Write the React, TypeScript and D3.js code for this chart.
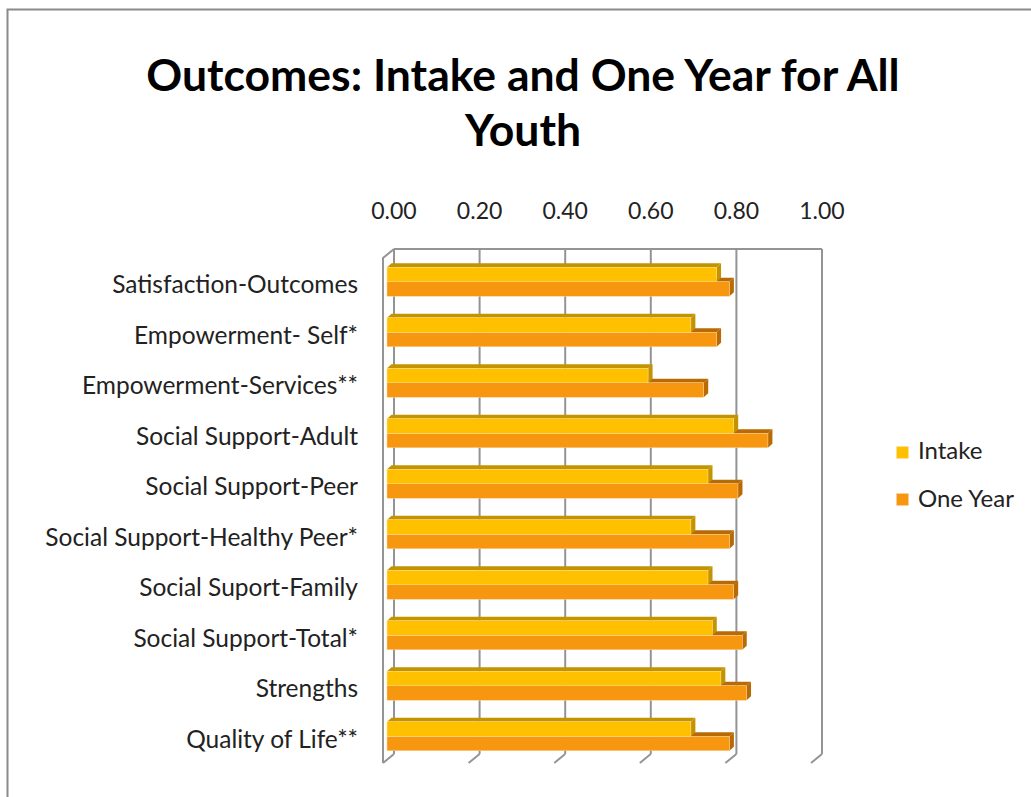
import React from "react";
import * as d3 from "d3";

const categories = [
  "Satisfaction-Outcomes",
  "Empowerment- Self*",
  "Empowerment-Services**",
  "Social Support-Adult",
  "Social Support-Peer",
  "Social Support-Healthy Peer*",
  "Social Suport-Family",
  "Social Support-Total*",
  "Strengths",
  "Quality of Life**",
];
const intake = [0.77, 0.71, 0.61, 0.81, 0.75, 0.71, 0.75, 0.76, 0.78, 0.71];
const oneYear = [0.8, 0.77, 0.74, 0.89, 0.82, 0.8, 0.81, 0.83, 0.84, 0.8];
const tickValues = [0, 0.2, 0.4, 0.6, 0.8, 1.0];
const seriesNames = ["Intake", "One Year"];

const FONT = "Lato, 'Open Sans', sans-serif";
const colors = [
  { front: "#FFC000", dark: "#C39300", edge: "#FFE2A0" },
  { front: "#F7960F", dark: "#B86B05", edge: "#FBD3A0" },
];

export default function App() {
  const W = 1031;
  const H = 797;
  // back wall
  const xBack = d3.scaleLinear().domain([0, 1]).range([394, 822]);
  const backTop = 249;
  const backBottom = 754;
  const dX = -11;
  const dY = 9;
  // bar plane
  const xBar = d3.scaleLinear().domain([0, 1]).range([387, 815]);
  const yBand = d3
    .scaleBand<string>()
    .domain(categories)
    .range([254, 759])
    .paddingInner(0.366)
    .paddingOuter(0.183);
  // label plane (front)
  const yFront = d3
    .scaleBand<string>()
    .domain(categories)
    .range([backTop + dY, backBottom + dY]);

  const depthX = 4.5;
  const depthY = 4;
  const bw = yBand.bandwidth() + 1;
  const fh = (bw - depthY) / 2;

  const series = [intake, oneYear];
  const gridColor = "#949494";

  const bar = (v: number, y0: number, c: typeof colors[0], key: string) => {
    const x0 = xBar(0);
    const x1 = xBar(v);
    const ft = y0 + depthY;
    const fb = ft + fh;
    return (
      <g key={key}>
        <path
          d={`M${x0},${ft}L${x1},${ft}L${x1 + depthX},${y0}L${x0 + depthX},${y0}Z`}
          fill={c.dark}
        />
        <path
          d={`M${x1},${ft}L${x1 + depthX},${y0}L${x1 + depthX},${fb - depthY}L${x1},${fb}Z`}
          fill={c.dark}
        />
        <rect x={x0} y={ft} width={x1 - x0} height={fh} fill={c.front} stroke={c.edge} strokeWidth={0.5} />
      </g>
    );
  };

  return (
    <svg
      width={W}
      height={H}
      style={{ position: "absolute", left: 0, top: 0, background: "#fff" }}
    >
      <rect x={7.5} y={9.5} width={1100} height={900} fill="#fff" stroke="#8a8a8a" strokeWidth={2} />
      <text
        x={523}
        y={91}
        textAnchor="middle"
        fontFamily={FONT}
        fontWeight="bold"
        fontSize={44.5}
        fill="#000"
      >
        Outcomes: Intake and One Year for All
      </text>
      <text
        x={523}
        y={146}
        textAnchor="middle"
        fontFamily={FONT}
        fontWeight="bold"
        fontSize={44.5}
        fill="#000"
      >
        Youth
      </text>

      {/* walls */}
      <g stroke={gridColor} strokeWidth={2} fill="none">
        {tickValues.map((t) => (
          <line key={"g" + t} x1={xBack(t)} x2={xBack(t)} y1={backTop} y2={backBottom} />
        ))}
        {tickValues.map((t) => (
          <line
            key={"b" + t}
            x1={xBack(t)}
            x2={xBack(t) + dX}
            y1={backBottom}
            y2={backBottom + dY}
          />
        ))}
        <line x1={xBack(0)} x2={xBack(1)} y1={backTop} y2={backTop} />
        <polyline
          points={`${xBack(0)},${backTop} ${xBack(0) + dX},${backTop + dY} ${xBack(0) + dX},${backBottom + dY}`}
        />
      </g>

      {/* tick labels */}
      {tickValues.map((t) => (
        <text
          key={"t" + t}
          x={xBack(t)}
          y={219}
          textAnchor="middle"
          fontFamily={FONT}
          fontSize={23}
          fill="#222"
        >
          {d3.format(".2f")(t)}
        </text>
      ))}

      {/* bars */}
      {categories.map((cat, i) => {
        const yb = yBand(cat)!;
        return (
          <g key={cat}>
            {[1, 0].map((s) => bar(series[s][i], yb + s * fh, colors[s], cat + s))}
          </g>
        );
      })}

      {/* category labels */}
      {categories.map((cat) => (
        <text
          key={"l" + cat}
          x={358}
          y={yFront(cat)! + yFront.bandwidth() / 2 + 10}
          textAnchor="end"
          fontFamily={FONT}
          fontSize={24.5}
          fill="#222"
        >
          {cat}
        </text>
      ))}

      {/* legend */}
      {seriesNames.map((n, i) => (
        <g key={n}>
          <rect x={896.5} y={446.5 + i * 47} width={12} height={12} fill={colors[i].front} stroke={colors[i].edge} strokeWidth={0.6} />
          <text x={918} y={459 + i * 48} fontFamily={FONT} fontSize={24} fill="#222">
            {n}
          </text>
        </g>
      ))}
    </svg>
  );
}
